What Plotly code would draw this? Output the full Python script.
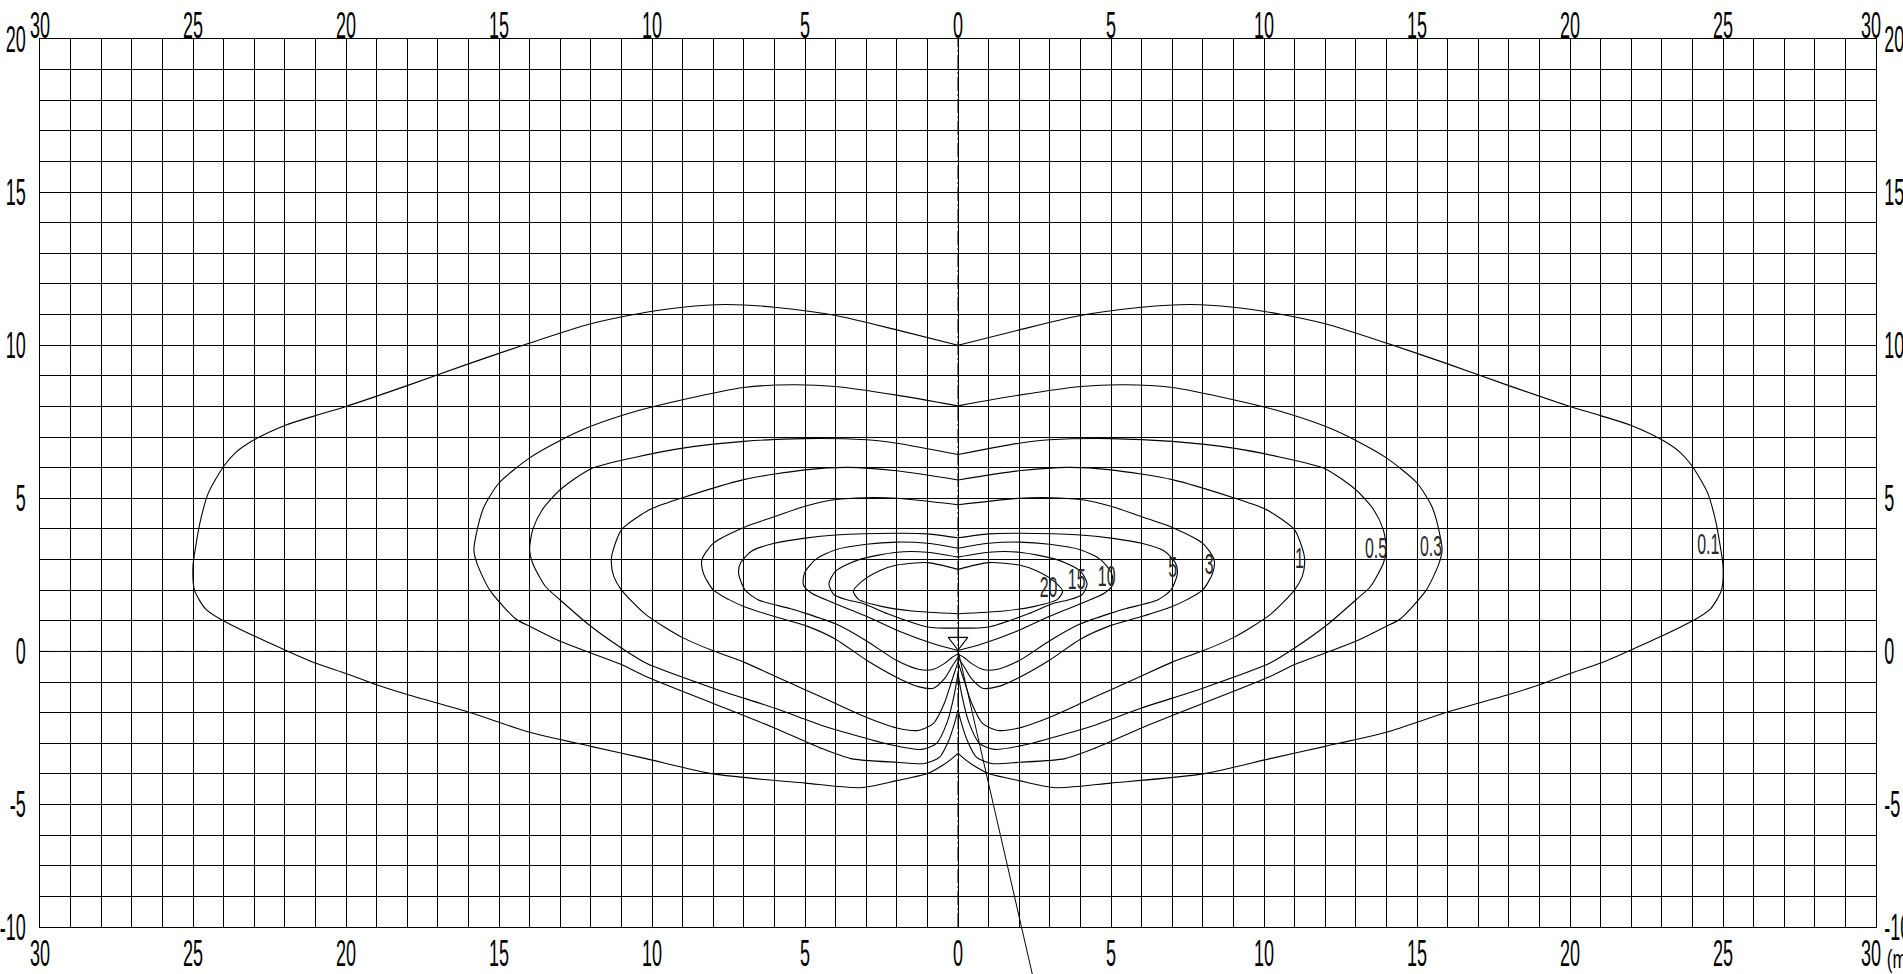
import plotly.graph_objects as go

# ---------------- axes / ticks ----------------
X_RANGE = [-30, 30]
Y_RANGE = [-9, 20]
X_TICK_VALS = [-30, -25, -20, -15, -10, -5, 0, 5, 10, 15, 20, 25, 30]
X_TICK_TEXT_BOTTOM = ["30", "25", "20", "15", "10", "5", "0", "5", "10", "15", "20", "25", "30\u00a0\u00a0"]
X_TICK_TEXT_TOP = ["30", "25", "20", "15", "10", "5", "0", "5", "10", "15", "20", "25", "30\u00a0\u00a0"]
Y_TICK_VALS = [20, 15, 10, 5, 0, -5, -9]
Y_TICK_TEXT = ["20", "15", "10", "5", "0", "-5", "-10"]
UNIT_TEXT = "(m)"

# ---------------- isolux contours ----------------
# right-hand half of every (symmetric) contour, from the top centre line,
# clockwise round the right end, back to the bottom centre line
C01_X = [0, 2, 4, 6, 7.6, 9, 10.5, 12, 14, 16, 18, 20, 21, 22, 23, 23.6, 24.0, 24.5, 24.75, 24.9, 25.0,
         24.95, 24.6, 24.1, 23.0, 22.0, 21.0, 20.0, 19.0, 18.0, 16.0, 14.0, 12.0, 10.2, 8.0, 5.0, 3.2,
         2.0, 1.0, 0.5, 0.2, 0]
C01_Y = [10.0, 10.5, 10.97, 11.24, 11.33, 11.24, 11.02, 10.7, 10.07, 9.39, 8.68, 8.0, 7.7, 7.38, 6.91, 6.5, 6.04, 5.17, 4.3, 3.5, 2.8,
         2.0, 1.4, 1.05, 0.5, 0.05, -0.38, -0.72, -1.09, -1.41, -1.98, -2.64, -3.1, -3.5, -4.0, -4.3, -4.45,
         -4.22, -3.99, -3.72, -3.5, -3.32]

C03_X = [0, 2, 4, 5.4, 7, 9, 10.5, 12, 13, 14, 15, 15.5, 15.76, 15.82, 15.71, 15.3, 14.45, 14.0, 13.0, 12.0,
         11.0, 10.2, 8.0, 6.0, 4.5, 3.5, 2.0, 1.1, 0.6, 0.3, 0.1, 0]
C03_Y = [8.02, 8.37, 8.65, 8.71, 8.62, 8.22, 7.85, 7.35, 6.89, 6.32, 5.5, 4.7, 3.75, 3.3, 2.85, 2.0, 1.06, 0.82, 0.33, -0.05,
         -0.43, -0.82, -1.7, -2.5, -3.15, -3.5, -3.62, -3.66, -3.45, -2.9, -2.3, -1.92]

C05_X = [0, 2, 3, 5, 7, 9, 10.5, 12, 13, 13.59, 13.9, 14.0, 13.9, 13.48, 13.0, 12.0, 11.0, 10.2, 8.0, 6.0,
         4.5, 3.5, 2.2, 1.2, 0.7, 0.35, 0.12, 0]
C05_Y = [6.43, 6.8, 6.91, 6.95, 6.86, 6.64, 6.35, 5.96, 5.28, 4.62, 3.97, 3.32, 2.88, 2.12, 1.68, 0.82, 0.11, -0.38, -1.2, -1.85,
         -2.4, -2.7, -3.05, -3.2, -3.0, -2.3, -1.4, -0.72]

C1_X = [0, 2, 3.6, 5, 7, 9, 10, 10.3, 11.0, 11.3, 11.33, 11.25, 11.0, 10.2, 9.0, 8.0, 7.0, 6.0, 5.0, 4.0,
        3.0, 2.0, 1.3, 0.8, 0.45, 0.2, 0]
C1_Y = [5.6, 5.9, 6.01, 5.93, 5.61, 5.02, 4.67, 4.5, 3.97, 3.2, 2.9, 2.45, 2.01, 1.2, 0.45, 0.02, -0.35, -0.8, -1.25, -1.7,
        -2.15, -2.5, -2.58, -2.35, -1.7, -0.95, -0.35]

C3_X = [0, 2, 3, 4, 5, 6.2, 7.0, 8.0, 8.37, 8.32, 8.0, 7.5, 7.0, 6.0, 5.0, 4.0, 3.0, 2.0, 1.3, 0.8, 0.45, 0.2, 0]
C3_Y = [4.79, 5.0, 5.02, 4.96, 4.74, 4.33, 4.05, 3.53, 2.99, 2.55, 2.01, 1.7, 1.47, 1.14, 0.85, 0.4, -0.28, -0.85, -1.15, -1.2, -0.9, -0.5, -0.2]

C5_X = [0, 1, 2, 4, 5, 6, 6.74, 7.1, 7.17, 6.96, 6.52, 5.5, 5.0, 4.0, 3.0, 2.0, 1.3, 0.85, 0.45, 0.2, 0]
C5_Y = [3.71, 3.84, 3.86, 3.8, 3.7, 3.53, 3.28, 2.9, 2.55, 2.01, 1.68, 1.4, 1.25, 0.9, 0.35, -0.3, -0.58, -0.6, -0.4, -0.2, -0.08]

C10_X = [0, 1, 2, 3, 4, 4.67, 5.02, 5.05, 4.78, 4.1, 3.5, 3.0, 1.9, 0.8, 0]
C10_Y = [3.37, 3.53, 3.57, 3.5, 3.32, 2.99, 2.55, 2.17, 1.9, 1.6, 1.35, 1.15, 0.65, 0.25, 0.03]

C15_X = [0, 1, 2, 3.26, 4.0, 4.22, 4.05, 3.6, 3.08, 2.3, 1.0, 0]
C15_Y = [3.08, 3.24, 3.24, 2.99, 2.62, 2.2, 1.85, 1.68, 1.56, 1.23, 0.8, 0.76]

C20_X = [0, 1, 2, 2.6, 3.15, 3.42, 3.25, 2.5, 1.5, 0]
C20_Y = [2.68, 2.9, 2.82, 2.62, 2.28, 1.97, 1.7, 1.47, 1.32, 1.23]

# contour value labels
LABEL_TEXT = ["20", "15", "10", "5", "3", "1", "0.5", "0.3", "0.1"]
LABEL_X = [2.96, 3.88, 4.86, 7.02, 8.21, 11.16, 13.66, 15.46, 24.52]
LABEL_Y = [2.0, 2.26, 2.37, 2.66, 2.77, 2.97, 3.29, 3.35, 3.41]

# luminaire position and aiming line
LAMP_X = [0]
LAMP_Y = [0.32]
AIM_X = [0.02, 2.58]
AIM_Y = [-0.05, -11.2]

CENTRE_X = 0
CENTRE_Y = 0

FAMILY = "Liberation Sans, Arial, sans-serif"
TICK_FONT = dict(family=FAMILY, size=36, color="black")
LABEL_FONT = dict(family=FAMILY, size=29, color="#2a2a2a")
GRID = "#000000"

fig = go.Figure()

contours = [
    (C01_X, C01_Y), (C03_X, C03_Y), (C05_X, C05_Y), (C1_X, C1_Y), (C3_X, C3_Y),
    (C5_X, C5_Y), (C10_X, C10_Y), (C15_X, C15_Y), (C20_X, C20_Y),
]
for xs, ys in contours:
    for side in (1, -1):
        fig.add_trace(go.Scatter(
            x=[side * v for v in xs], y=ys, mode="lines",
            line=dict(color="black", width=1.1, shape="spline", smoothing=0.7),
            hoverinfo="skip", showlegend=False))

fig.add_trace(go.Scatter(
    x=LABEL_X, y=LABEL_Y, text=LABEL_TEXT, mode="text", textposition="middle center",
    textfont=LABEL_FONT, hoverinfo="skip", showlegend=False))

fig.add_trace(go.Scatter(
    x=LAMP_X, y=LAMP_Y, mode="markers",
    marker=dict(symbol="triangle-down-open", size=17, color="black", line=dict(width=1.1, color="black")),
    hoverinfo="skip", showlegend=False))

# invisible trace so that the top / right label axes are drawn
fig.add_trace(go.Scatter(
    x=X_RANGE, y=Y_RANGE, xaxis="x2", yaxis="y2", mode="markers",
    marker=dict(size=1, color="rgba(0,0,0,0)"), hoverinfo="skip", showlegend=False))

dashdot = dict(color="black", width=1, dash="14px,3px,2px,3px")
fig.add_shape(type="line", xref="paper", yref="y", x0=0, x1=1, y0=CENTRE_Y, y1=CENTRE_Y, line=dashdot)
fig.add_shape(type="line", xref="x", yref="paper", x0=CENTRE_X, x1=CENTRE_X, y0=0, y1=1, line=dashdot)

fig.add_annotation(x=AIM_X[0], y=AIM_Y[0], xref="x", yref="y",
                   ax=AIM_X[1], ay=AIM_Y[1], axref="x", ayref="y",
                   text="", showarrow=True, arrowhead=0, arrowwidth=1, arrowcolor="black")

fig.add_annotation(x=1.0012, y=-0.036, xref="paper", yref="paper", xanchor="left", yanchor="middle",
                   text=UNIT_TEXT, showarrow=False,
                   font=dict(family=FAMILY, size=26, color="black"))

common_grid = dict(showgrid=True, gridcolor=GRID, gridwidth=1,
                   minor=dict(tickmode="linear", tick0=0, dtick=1, showgrid=True, gridcolor=GRID, gridwidth=1, ticks=""))

fig.update_layout(
    template="none",
    width=1903, height=974,
    margin=dict(l=40, r=27, t=39, b=47, pad=0),
    paper_bgcolor="white", plot_bgcolor="white",
    showlegend=False,
    xaxis=dict(range=X_RANGE, autorange=False, tickmode="array", tickvals=X_TICK_VALS, ticktext=X_TICK_TEXT_BOTTOM,
               side="bottom", zeroline=False, showline=True, linecolor="black", linewidth=1, mirror=True,
               ticks="outside", ticklen=1, tickcolor="rgba(0,0,0,0)", tickfont=TICK_FONT, automargin=False,
               ticklabelstandoff=-6, ticklabeloverflow="allow", **common_grid),
    yaxis=dict(range=Y_RANGE, autorange=False, tickmode="array", tickvals=Y_TICK_VALS, ticktext=Y_TICK_TEXT,
               side="left", zeroline=False, showline=True, linecolor="black", linewidth=1, mirror=True,
               ticks="outside", ticklen=6, tickcolor="rgba(0,0,0,0)", tickfont=TICK_FONT, automargin=False,
               ticklabeloverflow="allow", **common_grid),
    xaxis2=dict(range=X_RANGE, autorange=False, overlaying="x", side="top", anchor="y2", tickmode="array",
                tickvals=X_TICK_VALS, ticktext=X_TICK_TEXT_TOP, showgrid=False, zeroline=False, showline=False,
                ticks="outside", ticklen=1, tickcolor="rgba(0,0,0,0)", tickfont=TICK_FONT, automargin=False,
                ticklabelstandoff=-15, ticklabeloverflow="allow"),
    yaxis2=dict(range=Y_RANGE, autorange=False, overlaying="y", side="right", anchor="x2", tickmode="array",
                tickvals=Y_TICK_VALS, ticktext=Y_TICK_TEXT, showgrid=False, zeroline=False, showline=False,
                ticks="outside", ticklen=0, tickcolor="rgba(0,0,0,0)", tickfont=TICK_FONT, automargin=False,
                ticklabeloverflow="allow"),
)

# condense the lettering horizontally (narrow drafting-style figures), text stays real text
POST = """
document.body.style.margin='0px';
document.body.style.overflow='hidden';
var gd = document.getElementById('{plot_id}');
function squeeze(sel, k) {
  gd.querySelectorAll(sel).forEach(function(t){
    var w = t.getComputedTextLength();
    if (w > 0) {
      t.setAttribute('lengthAdjust', 'spacingAndGlyphs');
      t.setAttribute('textLength', (w * k).toFixed(2));
    }
  });
}
squeeze('g.xtick text, g.ytick text, g.x2tick text, g.y2tick text', 0.5);
squeeze('g.textpoint text', 0.55);
squeeze('g.annotation-text-g text', 0.65);
"""

fig.write_html("out.html", config={"displayModeBar": False}, post_script=POST)
